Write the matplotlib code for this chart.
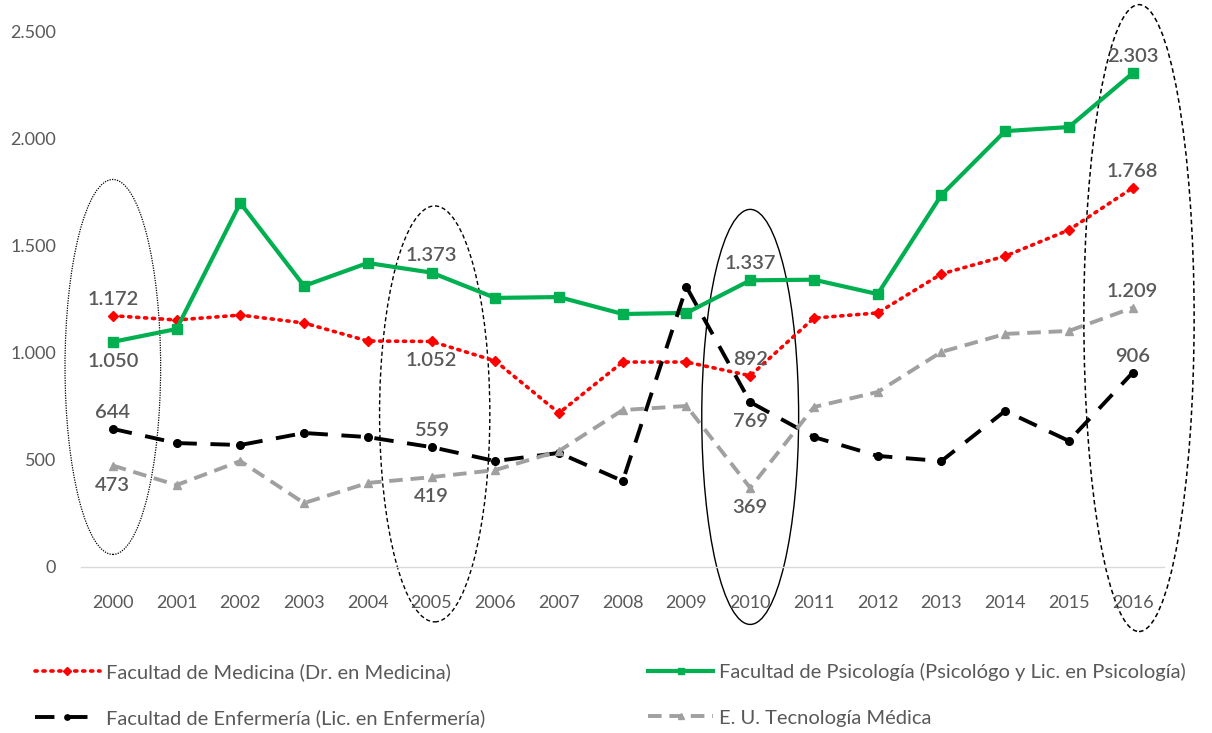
import matplotlib
matplotlib.use("Agg")
import matplotlib.pyplot as plt
from matplotlib.patches import Ellipse
import numpy as np

plt.rcParams['font.family'] = ['Lato', 'DejaVu Sans']

# datos (egresados por año)
years = list(range(2000, 2017))
medicina = [1172, 1152, 1175, 1138, 1054, 1052, 961, 718, 956, 956, 892, 1161, 1185, 1367, 1450, 1572, 1768]
psicologia = [1050, 1110, 1698, 1311, 1418, 1373, 1255, 1259, 1180, 1185, 1337, 1340, 1273, 1735, 2033, 2052, 2303]
enfermeria = [644, 578, 569, 625, 606, 559, 494, 532, 401, 1306, 769, 606, 518, 494, 728, 588, 906]
tecnologia = [473, 382, 494, 298, 392, 419, 452, 541, 732, 751, 369, 746, 816, 1003, 1087, 1101, 1209]

names = ["Facultad de Medicina (Dr. en Medicina)",
         "Facultad de Psicología (Psicológo y Lic. en Psicología)",
         "Facultad de Enfermería (Lic. en Enfermería)",
         "E. U. Tecnología Médica"]

# etiquetas que se muestran: (serie, año, arriba/abajo)
labels_shown = [
    (medicina, 2000, 'up'), (psicologia, 2000, 'down'), (enfermeria, 2000, 'up'), (tecnologia, 2000, 'down'),
    (psicologia, 2005, 'up'), (medicina, 2005, 'down'), (enfermeria, 2005, 'up'), (tecnologia, 2005, 'down'),
    (psicologia, 2010, 'up'), (medicina, 2010, 'up'), (enfermeria, 2010, 'down'), (tecnologia, 2010, 'down'),
    (psicologia, 2016, 'up'), (medicina, 2016, 'up'), (tecnologia, 2016, 'up'), (enfermeria, 2016, 'up'),
]

def fmt(v):
    return "{:,}".format(int(v)).replace(",", ".")

fig = plt.figure(figsize=(12.12, 7.33), dpi=100)
ax = fig.add_axes([0.0668, 0.2265, 0.894, 0.7312])

txt = '#595959'

l_med, = ax.plot(years, medicina, color='#FF0000', linestyle=(0, (0.6, 1.6)), dash_capstyle='round',
                 lw=2.6, marker='D', markersize=5.5, label=names[0])
l_psi, = ax.plot(years, psicologia, color='#00B050', linestyle='-', lw=3,
                 marker='s', markersize=6.5, label=names[1])
l_enf, = ax.plot(years, enfermeria, color='#000000', linestyle=(0, (5, 3.5)), lw=2.8,
                 marker='o', markersize=5.5, label=names[2])
l_tec, = ax.plot(years, tecnologia, color='#A0A0A0', linestyle=(0, (3.5, 2)), lw=2.8,
                 marker='^', markersize=6, label=names[3])

for serie, yr, pos in labels_shown:
    v = serie[years.index(yr)]
    off = 12 if pos == 'up' else -14
    ax.annotate(fmt(v), (yr, v), xytext=(0, off), textcoords='offset points',
                ha='center', va='center', fontsize=14.5, color=txt, fontweight='semibold')

# elipses que resaltan los años
ell_specs = [
    (2000.0, 933, 1.5, 1749, (0, (1, 1)), 0.9),
    (2005.05, 714, 1.73, 1940, (0, (3, 2)), 1.0),
    (2010.0, 700, 1.52, 1936, '-', 1.0),
    (2016.1, 1161, 1.73, 2924, (0, (3, 2)), 1.1),
]
for cx, cy, w, h, ls, lw in ell_specs:
    e = Ellipse((cx, cy), w, h, fill=False, edgecolor='black', linestyle=ls, lw=lw, clip_on=False)
    ax.add_patch(e)

ax.set_xlim(1999.5, 2016.5)
ax.set_ylim(0, 2500)
ax.set_xticks(years)
ax.set_xticklabels([str(y) for y in years])
yt = [0, 500, 1000, 1500, 2000, 2500]
ax.set_yticks(yt)
ax.set_yticklabels([fmt(v) for v in yt])
ax.tick_params(axis='both', length=0, labelsize=13, labelcolor=txt)
ax.tick_params(axis='x', pad=20)
ax.tick_params(axis='y', pad=18)
for s in ['top', 'right', 'left']:
    ax.spines[s].set_visible(False)
ax.spines['bottom'].set_color('#D9D9D9')
ax.spines['bottom'].set_linewidth(1)

leg_kw = dict(loc='upper left', frameon=False, fontsize=14.5, handlelength=3.2,
              labelspacing=1.4, handletextpad=0.3, markerscale=0.7)
leg1 = fig.legend(handles=[l_med, l_enf], bbox_to_anchor=(0.014, 0.120), **leg_kw)
leg2 = fig.legend(handles=[l_psi, l_tec], bbox_to_anchor=(0.520, 0.120), **leg_kw)
for lg in (leg1, leg2):
    for t in lg.get_texts():
        t.set_color(txt)

fig.savefig("out.png", dpi=100)
